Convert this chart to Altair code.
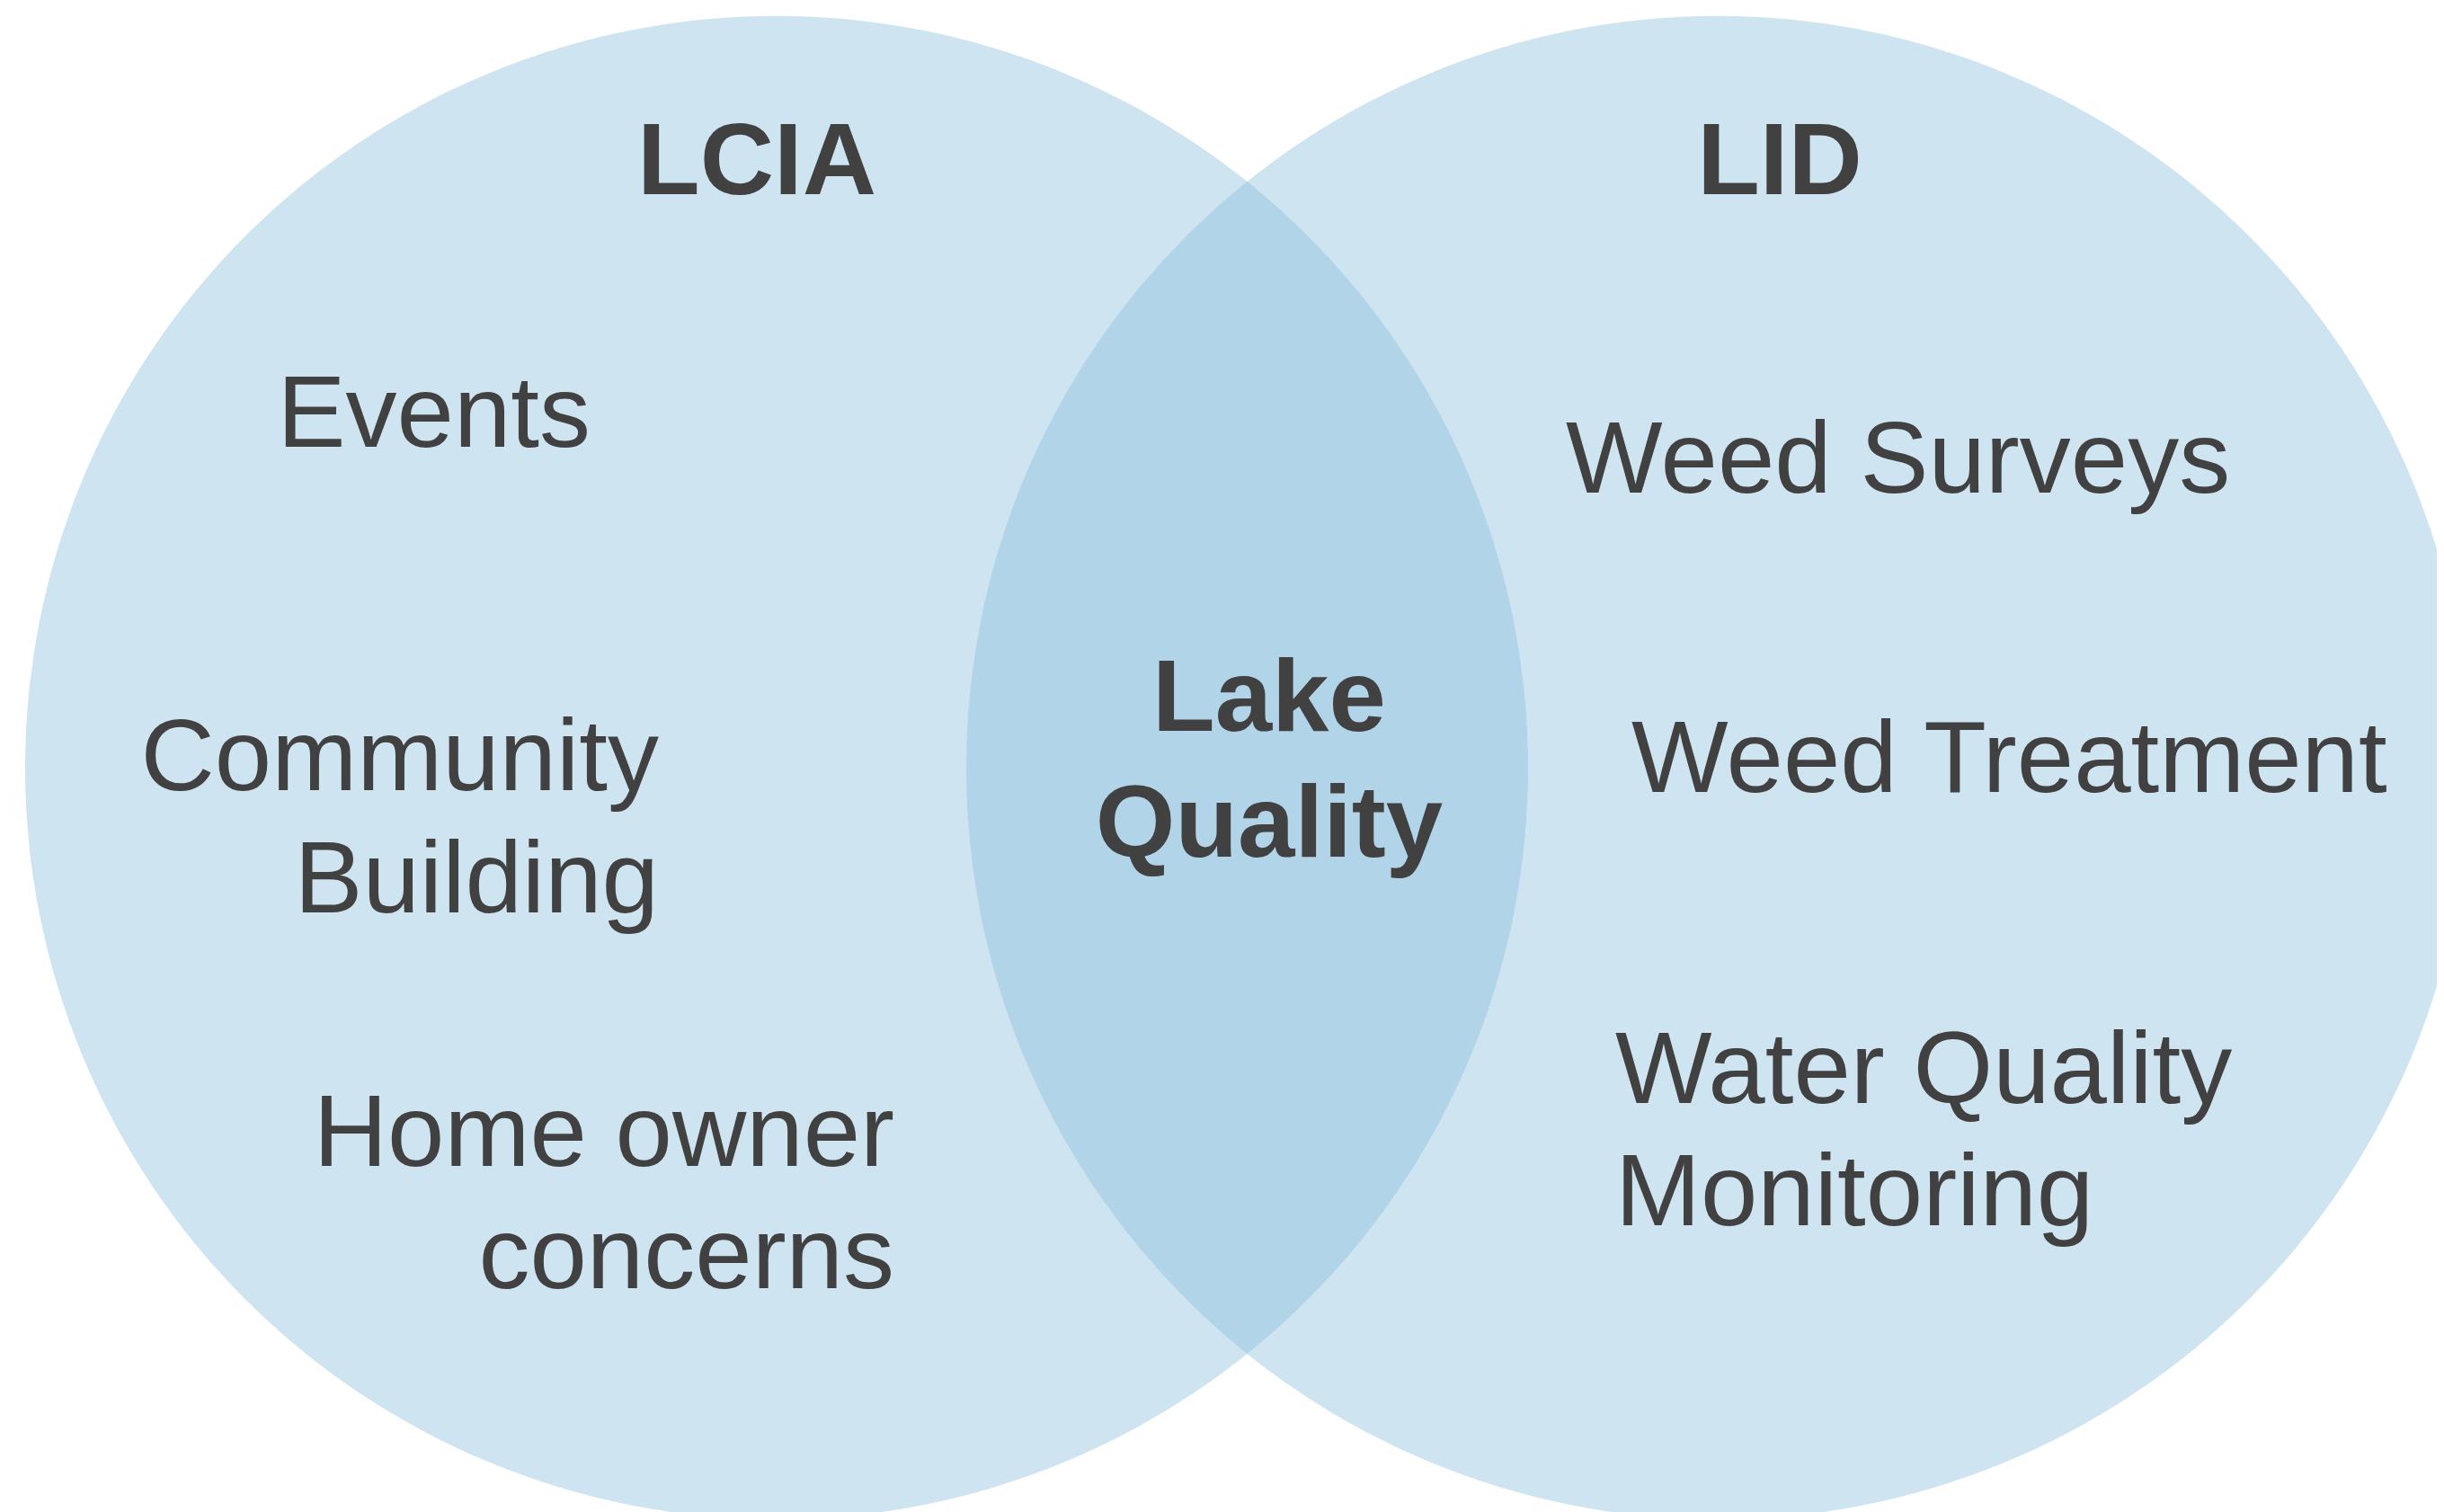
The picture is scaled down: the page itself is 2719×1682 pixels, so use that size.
import altair as alt
import pandas as pd

# ---- data (reference-pixel units) ----
set_names = ["LCIA", "LID"]
set_cx = [864, 1911]
set_cy = [854, 854]
set_r = [836, 836]

header_text = ["LCIA", "LID"]
header_x = [842, 1980]
header_y = [216, 216]

left_items = ["Events", "Community", "Building", "Home owner", "concerns"]
left_x = [657, 733, 733, 995, 995]
left_y = [497, 879, 1015, 1297, 1433]

right_items = ["Weed Surveys", "Weed Treatment", "Water Quality", "Monitoring"]
right_x = [1742, 1815, 1797, 1797]
right_y = [548, 881, 1227, 1363]

center_items = ["Lake", "Quality"]
center_x = [1412, 1412]
center_y = [813, 953]

# ---- chart ----
W, H = 2703, 1674
xs = alt.Scale(domain=[8, 8 + W], nice=False, zero=False)
ys = alt.Scale(domain=[8, 8 + H], nice=False, zero=False, reverse=True)

circles = pd.DataFrame({"set": set_names, "cx": set_cx, "cy": set_cy, "r": set_r})
# Vega symbol size for a circle is the area of its bounding square: (2r)^2
circles["box"] = (2 * circles["r"]) ** 2

headers = pd.DataFrame({"t": header_text, "x": header_x, "y": header_y})
lefts = pd.DataFrame({"t": left_items, "x": left_x, "y": left_y})
rights = pd.DataFrame({"t": right_items, "x": right_x, "y": right_y})
centers = pd.DataFrame({"t": center_items, "x": center_x, "y": center_y})

FONT = "Liberation Sans"
TXT = "#414141"
FS = 114


def enc(chart, xf, yf):
    return chart.encode(
        x=alt.X(f"{xf}:Q", scale=xs, axis=None),
        y=alt.Y(f"{yf}:Q", scale=ys, axis=None),
    )


circle_layer = alt.Chart(circles).mark_circle(
    color="#87bcdc", opacity=0.4, strokeWidth=0
).encode(
    x=alt.X("cx:Q", scale=xs, axis=None),
    y=alt.Y("cy:Q", scale=ys, axis=None),
    size=alt.Size("box:Q", scale=None, legend=None),
)

header_layer = enc(
    alt.Chart(headers).mark_text(
        font=FONT, fontSize=FS, fontWeight="bold", color=TXT,
        align="center", baseline="alphabetic"
    ), "x", "y"
).encode(text="t:N")

left_layer = enc(
    alt.Chart(lefts).mark_text(
        font=FONT, fontSize=FS, color=TXT, align="right", baseline="alphabetic"
    ), "x", "y"
).encode(text="t:N")

right_layer = enc(
    alt.Chart(rights).mark_text(
        font=FONT, fontSize=FS, color=TXT, align="left", baseline="alphabetic"
    ), "x", "y"
).encode(text="t:N")

center_layer = enc(
    alt.Chart(centers).mark_text(
        font=FONT, fontSize=FS, fontWeight="bold", color=TXT,
        align="center", baseline="alphabetic"
    ), "x", "y"
).encode(text="t:N")

chart = alt.layer(
    circle_layer, header_layer, left_layer, right_layer, center_layer
).properties(
    width=W, height=H, padding=0, autosize=alt.AutoSizeParams(type="none"),
    background="white",
).configure_view(stroke=None)

chart.save("out.html", embed_options={"renderer": "svg", "actions": False})
